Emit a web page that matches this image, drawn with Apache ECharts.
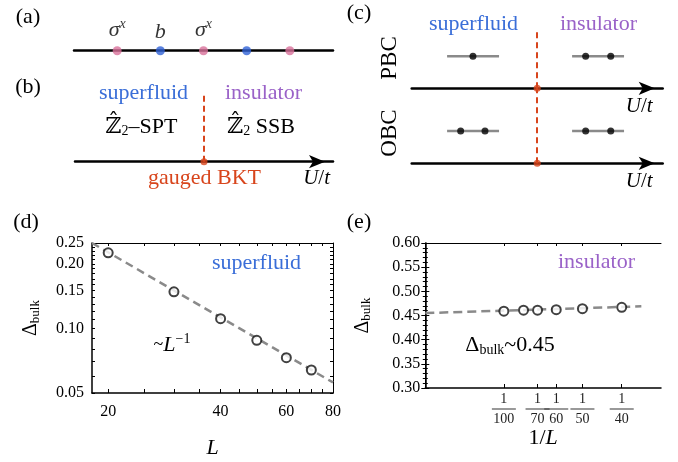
<!DOCTYPE html>
<html>
<head>
<meta charset="utf-8">
<script src="https://cdn.jsdelivr.net/npm/echarts@6/dist/echarts.min.js"></script>
<style>html,body{margin:0;padding:0;background:#fff}#main{width:678px;height:462px}</style>
</head>
<body>
<div id="main"></div>
<script>
var FONT = '"Liberation Serif", "DejaVu Serif", serif';
var BLUE = '#3a6ed8', PURPLE = '#9a62c8', RED = '#d8451c', PINK = '#d8709a', DOTBLUE = '#2f62d6', GRAY = '#8a8a8a';

// (a) chain sites
var chainSites = [1, 2, 3, 4, 5];
var chainKinds = ['s', 'b', 's', 'b', 's'];
var chainNamed = [true, true, true, false, false];

// (b)/(c) transition point on the U/t axis
var criticalU = 0.5;

// (c) schematic levels
var levelBars = [[0.141, 0.348], [0.639, 0.846]];
var pbcDots = [0.244, 0.693, 0.793];
var obcDots = [0.195, 0.292, 0.693, 0.793];
var pbcLevel = 0.55;
var obcLevel = 0.43;

// (d) superfluid gap vs L
var sizesD = [20, 30, 40, 50, 60, 70];
var gapD = [0.225, 0.148, 0.111, 0.088, 0.073, 0.064];
var fitD = [[18.1, 0.25], [80, 0.056]];
var labelsDx = [20, 40, 60, 80];
var ticksDx = [20, 25, 30, 35, 40, 45, 50, 55, 60, 65, 70, 75, 80];
var labelsDy = [0.05, 0.10, 0.15, 0.20, 0.25];
var ticksDy = [0.05, 0.06, 0.07, 0.08, 0.09, 0.10, 0.11, 0.12, 0.13, 0.14, 0.15, 0.16, 0.17, 0.18, 0.19, 0.20, 0.21, 0.22, 0.23, 0.24, 0.25];

// (e) insulator gap vs 1/L
var sizesE = [100, 80, 70, 60, 50, 40];
var gapE = [0.459, 0.461, 0.461, 0.462, 0.464, 0.467];
var fitE = [[0, 0.455], [0.0275, 0.469]];
var labelsEx = [100, 70, 60, 50, 40];

var myChart = echarts.init(document.getElementById('main'));

function lg(v) { return Math.log10(v); }

function txt(x, y, text, size, color, extra) {
    var el = {
        type: 'text', x: x, y: y,
        style: {
            text: text, fontFamily: FONT, fontSize: size, fill: color || '#000',
            align: 'center', verticalAlign: 'middle', textAlign: 'center', textVerticalAlign: 'middle'
        }
    };
    if (extra) {
        for (var k in extra) {
            if (k === 'style') { for (var s in extra.style) el.style[s] = extra.style[s]; }
            else el[k] = extra[k];
        }
    }
    return el;
}

var hiddenY = function (gi) { return { gridIndex: gi, type: 'value', min: 0, max: 1, show: false }; };

function arrowAxis(gi, nameGap, padTop) {
    return {
        gridIndex: gi, type: 'value', min: 0, max: 1,
        axisLine: { onZero: false, symbol: ['none', 'arrow'], symbolSize: [10, 16], symbolOffset: [0, -8],
            lineStyle: { color: '#000', width: 2.5 } },
        axisTick: { show: false }, axisLabel: { show: false }, splitLine: { show: false },
        name: '{i|U}/{i|t}', nameLocation: 'end', nameGap: nameGap,
        nameTextStyle: { align: 'right', verticalAlign: 'top', padding: [padTop, 0, 0, 0],
            fontFamily: FONT, fontSize: 21, color: '#000',
            rich: { i: { fontFamily: FONT, fontSize: 21, fontStyle: 'italic', color: '#000' } } }
    };
}

var frameLine = { lineStyle: { color: '#000', width: 1.5 } };
var thinLine = { lineStyle: { color: '#000', width: 1 } };
var tickLabel = { fontFamily: FONT, fontSize: 16, color: '#000' };
var deltaName = '{a|Δ}{b|bulk}';
var deltaRich = {
    a: { fontFamily: FONT, fontSize: 20, color: '#000' },
    b: { fontFamily: FONT, fontSize: 13, color: '#000', padding: [9, 0, 0, 0] }
};

var series = [];

// (a)
series.push({
    type: 'scatter', xAxisIndex: 0, yAxisIndex: 0, symbolSize: 9, z: 3,
    data: chainSites.map(function (x, i) {
        return { value: [x, 0], itemStyle: { color: chainKinds[i] === 's' ? PINK : DOTBLUE } };
    }),
    label: {
        show: true, position: 'top', distance: 3,
        formatter: function (p) {
            if (!chainNamed[p.dataIndex]) return '';
            return chainKinds[p.dataIndex] === 's' ? '{g|σ}{x|x}' : '{g|b}';
        },
        rich: {
            g: { fontFamily: FONT, fontSize: 22, fontStyle: 'italic', color: '#000' },
            x: { fontFamily: FONT, fontSize: 14, fontStyle: 'italic', color: '#000', padding: [0, 0, 12, 0] }
        }
    }
});

function transition(xi, yi) {
    return {
        type: 'scatter', xAxisIndex: xi, yAxisIndex: yi, symbolSize: 7, z: 4,
        itemStyle: { color: RED }, data: [[criticalU, 0]],
        markLine: { silent: true, symbol: 'none', label: { show: false },
            lineStyle: { color: RED, width: 2, type: [6, 4] }, data: [{ xAxis: criticalU }] }
    };
}
series.push(transition(1, 1));
series.push(transition(2, 2));
series.push(transition(3, 3));

// (c) levels
[[2, pbcLevel, pbcDots], [3, obcLevel, obcDots]].forEach(function (c) {
    levelBars.forEach(function (b) {
        series.push({ type: 'line', xAxisIndex: c[0], yAxisIndex: c[0], showSymbol: false, z: 2,
            lineStyle: { color: GRAY, width: 2.5 }, data: [[b[0], c[1]], [b[1], c[1]]] });
    });
    series.push({ type: 'scatter', xAxisIndex: c[0], yAxisIndex: c[0], symbolSize: 7, z: 3,
        itemStyle: { color: '#000' }, data: c[2].map(function (x) { return [x, c[1]]; }) });
});

// (d)
series.push({ type: 'line', xAxisIndex: 4, yAxisIndex: 4, showSymbol: false, z: 2,
    lineStyle: { color: GRAY, width: 2.5, type: [8, 5] },
    data: fitD.map(function (p) { return [lg(p[0]), lg(p[1])]; }) });
series.push({ type: 'scatter', xAxisIndex: 4, yAxisIndex: 4, symbolSize: 9, z: 3,
    itemStyle: { color: '#fff', borderColor: '#111', borderWidth: 2 },
    data: sizesD.map(function (L, i) { return [lg(L), lg(gapD[i])]; }) });

// (e)
series.push({ type: 'line', xAxisIndex: 6, yAxisIndex: 6, showSymbol: false, z: 2,
    lineStyle: { color: GRAY, width: 2.5, type: [9, 5] }, data: fitE });
series.push({ type: 'scatter', xAxisIndex: 6, yAxisIndex: 6, symbolSize: 9, z: 3,
    itemStyle: { color: '#fff', borderColor: '#111', borderWidth: 2 },
    data: sizesE.map(function (L, i) { return [1 / L, gapE[i]]; }) });

var option = {
    animation: false,
    backgroundColor: '#fff',
    grid: [
        { left: 74, top: 20, width: 259, height: 30.7 },
        { left: 75, top: 92, width: 258, height: 69.7 },
        { left: 411.7, top: 30, width: 251, height: 58.3 },
        { left: 411.7, top: 88.3, width: 251, height: 75 },
        { left: 92, top: 243, width: 241, height: 150 },
        { left: 425.3, top: 243, width: 235.7, height: 145 }
    ],
    xAxis: [
        { gridIndex: 0, type: 'value', min: 0, max: 6,
          axisLine: { onZero: false, lineStyle: { color: '#000', width: 2.5 } },
          axisTick: { show: false }, axisLabel: { show: false }, splitLine: { show: false } },
        arrowAxis(1, -3, 6),
        arrowAxis(2, -10, 8),
        arrowAxis(3, -10, 8),
        { gridIndex: 4, type: 'value', min: lg(18.1), max: lg(80), axisLine: frameLine,
          splitLine: { show: false },
          axisTick: { inside: true, length: 4, customValues: ticksDx.map(lg), lineStyle: { color: '#000' } },
          axisLabel: Object.assign({ customValues: labelsDx.map(lg), margin: 11,
              formatter: function (v) { return String(Math.round(Math.pow(10, v))); } }, tickLabel),
          name: 'L', nameLocation: 'middle', nameGap: 44,
          nameTextStyle: { fontFamily: FONT, fontSize: 22, fontStyle: 'italic', color: '#000' } },
        { gridIndex: 4, type: 'value', position: 'top', min: lg(18.1), max: lg(80), axisLine: thinLine,
          splitLine: { show: false }, axisLabel: { show: false },
          axisTick: { inside: true, length: 3, customValues: ticksDx.map(lg), lineStyle: { color: '#000' } } },
        { gridIndex: 5, type: 'value', min: 0, max: 0.03, axisLine: frameLine,
          splitLine: { show: false },
          axisTick: { inside: true, length: 4, customValues: labelsEx.map(function (L) { return 1 / L; }), lineStyle: { color: '#000' } },
          axisLabel: { customValues: labelsEx.map(function (L) { return 1 / L; }), margin: 5,
              formatter: function (v) { return '{n|1}\n{b|}\n{d|' + Math.round(1 / v) + '}'; },
              rich: {
                  n: { fontFamily: FONT, fontSize: 14, lineHeight: 13, color: '#222' },
                  b: { width: 24, height: 1, lineHeight: 6, backgroundColor: '#333' },
                  d: { fontFamily: FONT, fontSize: 14, lineHeight: 14, color: '#222' }
              } },
          name: '1/{i|L}', nameLocation: 'middle', nameGap: 36,
          nameTextStyle: { fontFamily: FONT, fontSize: 22, color: '#000',
              rich: { i: { fontFamily: FONT, fontSize: 22, fontStyle: 'italic', color: '#000' } } } },
        { gridIndex: 5, type: 'value', position: 'top', min: 0, max: 0.03, axisLine: thinLine,
          splitLine: { show: false }, axisLabel: { show: false },
          axisTick: { inside: true, length: 3, customValues: labelsEx.map(function (L) { return 1 / L; }), lineStyle: { color: '#000' } } }
    ],
    yAxis: [
        hiddenY(0), hiddenY(1), hiddenY(2), hiddenY(3),
        { gridIndex: 4, type: 'value', min: lg(0.05), max: lg(0.25), axisLine: frameLine,
          splitLine: { show: false },
          axisTick: { inside: true, length: 3, customValues: ticksDy.map(lg), lineStyle: { color: '#000' } },
          axisLabel: Object.assign({ customValues: labelsDy.map(lg), margin: 8,
              formatter: function (v) { return Math.pow(10, v).toFixed(2); } }, tickLabel),
          name: deltaName, nameLocation: 'middle', nameGap: 50,
          nameTextStyle: { rich: deltaRich } },
        { gridIndex: 4, type: 'value', position: 'right', min: lg(0.05), max: lg(0.25), axisLine: thinLine,
          splitLine: { show: false }, axisLabel: { show: false },
          axisTick: { inside: true, length: 3, customValues: ticksDy.map(lg), lineStyle: { color: '#000' } } },
        { gridIndex: 5, type: 'value', min: 0.3, max: 0.6, interval: 0.05, axisLine: frameLine,
          splitLine: { show: false },
          axisTick: { inside: true, length: 4, lineStyle: { color: '#000' } },
          minorTick: { show: true, splitNumber: 5, length: 2.5, lineStyle: { color: '#000' } },
          axisLabel: Object.assign({ margin: 5, formatter: function (v) { return v.toFixed(2); } }, tickLabel),
          name: deltaName, nameLocation: 'middle', nameGap: 52,
          nameTextStyle: { rich: deltaRich } },
        { gridIndex: 5, type: 'value', position: 'right', min: 0.3, max: 0.6, interval: 0.05, axisLine: thinLine,
          splitLine: { show: false }, axisLabel: { show: false },
          axisTick: { inside: true, length: 4, lineStyle: { color: '#000' } },
          minorTick: { show: true, splitNumber: 5, length: 2.5, lineStyle: { color: '#000' } } }
    ],
    graphic: [
        txt(28, 17, '(a)', 22),
        txt(28, 87, '(b)', 22),
        txt(359, 13, '(c)', 22),
        txt(26, 222, '(d)', 22),
        txt(359, 222, '(e)', 22),
        txt(143.5, 93, 'superfluid', 22, BLUE),
        txt(263.5, 93, 'insulator', 22, PURPLE),
        txt(141.5, 127, '{z|ℤ̂}{s|2}{t|–SPT}', 22, '#000', { style: { rich: {
            z: { fontFamily: FONT, fontSize: 22, fill: '#000' },
            s: { fontFamily: FONT, fontSize: 14, fill: '#000', padding: [8, 0, 0, 0] },
            t: { fontFamily: FONT, fontSize: 22, fill: '#000' } } } }),
        txt(261, 127, '{z|ℤ̂}{s|2}{t| SSB}', 22, '#000', { style: { rich: {
            z: { fontFamily: FONT, fontSize: 22, fill: '#000' },
            s: { fontFamily: FONT, fontSize: 14, fill: '#000', padding: [8, 0, 0, 0] },
            t: { fontFamily: FONT, fontSize: 22, fill: '#000' } } } }),
        txt(204.5, 178, 'gauged BKT', 22, RED),
        txt(473.5, 24, 'superfluid', 22, BLUE),
        txt(598.5, 24, 'insulator', 22, PURPLE),
        txt(390, 58, 'PBC', 23, '#000', { rotation: Math.PI / 2 }),
        txt(390, 133, 'OBC', 23, '#000', { rotation: Math.PI / 2 }),
        txt(256.5, 263, 'superfluid', 22, BLUE),
        txt(172, 345, '{t|~}{i|L}{p|−1}', 20, '#000', { style: { rich: {
            t: { fontFamily: FONT, fontSize: 18, fill: '#000' },
            i: { fontFamily: FONT, fontSize: 22, fontStyle: 'italic', fill: '#000' },
            p: { fontFamily: FONT, fontSize: 14, fill: '#000', padding: [0, 0, 12, 0] } } } }),
        txt(596.5, 262, 'insulator', 22, PURPLE),
        txt(510, 345, '{a|Δ}{b|bulk}{t|~0.45}', 22, '#000', { style: { rich: {
            a: { fontFamily: FONT, fontSize: 22, fill: '#000' },
            b: { fontFamily: FONT, fontSize: 14, fill: '#000', padding: [10, 0, 0, 0] },
            t: { fontFamily: FONT, fontSize: 22, fill: '#000' } } } })
    ],
    series: series
};

myChart.setOption(option);
</script>
</body>
</html>
